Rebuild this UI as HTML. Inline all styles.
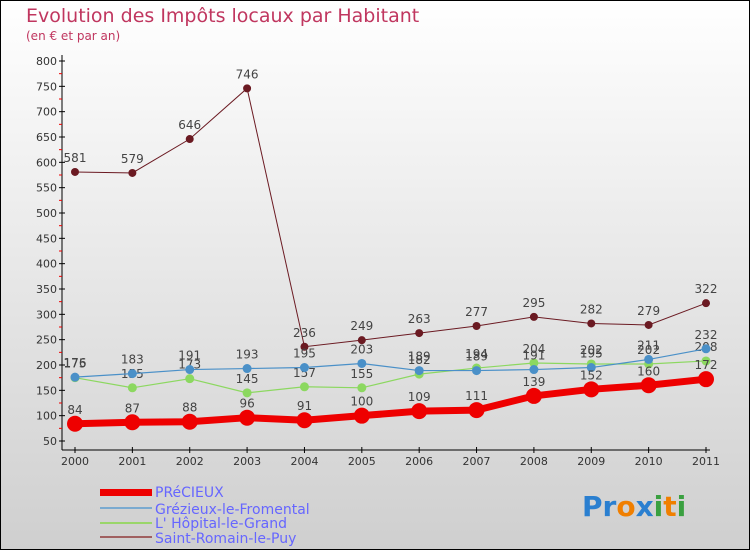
<!DOCTYPE html>
<html><head><meta charset="utf-8"><style>
body{margin:0;}
svg{display:block;font-family:"DejaVu Sans","Liberation Sans",sans-serif;}
</style></head><body>
<svg width="750" height="550">
<defs><linearGradient id="bg" x1="0" y1="0" x2="0" y2="1"><stop offset="0" stop-color="#ffffff"/><stop offset="1" stop-color="#cfcfcf"/></linearGradient></defs>
<rect x="0.5" y="0.5" width="749" height="549" fill="url(#bg)" stroke="#000"/>
<text x="26" y="22" font-size="19" fill="#c0365f">Evolution des Impôts locaux par Habitant</text>
<text x="26" y="40" font-size="12" fill="#c0365f">(en € et par an)</text>
<g id="axes"></g><g id="series"></g>
<g font-size="14" fill="#6666ff">
<rect x="100" y="489" width="52" height="7" fill="#e00"/>
<text x="155" y="497">PRéCIEUX</text>
<rect x="100" y="507" width="52" height="2" fill="#7aaad0"/>
<text x="155" y="514">Grézieux-le-Fromental</text>
<rect x="100" y="522" width="52" height="2" fill="#9ad66a"/>
<text x="155" y="528">L' Hôpital-le-Grand</text>
<rect x="100" y="536" width="52" height="2" fill="#a06060"/>
<text x="155" y="543">Saint-Romain-le-Puy</text>
</g>
<text x="582" y="516" font-size="28" font-weight="bold"><tspan fill="#2a7fd0">Pr</tspan><tspan fill="#f07f00">o</tspan><tspan fill="#2a7fd0">x</tspan><tspan fill="#3aa040">i</tspan><tspan fill="#f07f00">t</tspan><tspan fill="#3aa040">i</tspan></text>
</svg>
<script>
const years=["2000","2001","2002","2003","2004","2005","2006","2007","2008","2009","2010","2011"];
const precieux=[84,87,88,96,91,100,109,111,139,152,160,172];
const grezieux=[176,183,191,193,195,203,189,189,191,195,211,232];
const hopital=[175,155,173,145,157,155,182,194,204,202,202,208];
const saintRomain=[581,579,646,746,236,249,263,277,295,282,279,322];
const yTicks=[50,100,150,200,250,300,350,400,450,500,550,600,650,700,750,800];
const NS="http://www.w3.org/2000/svg";
const X=i=>75+i*(706-75)/11;
const Y=v=>441-(v-50)*(380/750);
function mk(tag,at,parent,text){const e=document.createElementNS(NS,tag);for(const k in at)e.setAttribute(k,at[k]);if(text!=null)e.textContent=text;parent.appendChild(e);return e;}
const ax=document.getElementById('axes');
let l=mk('line',{x1:62,y1:55,x2:62,y2:450,stroke:'#000'},ax);


l=mk('line',{x1:62,y1:450,x2:710,y2:450,stroke:'#000'},ax);


yTicks.forEach((t,i)=>{mk('line',{x1:59,y1:Y(t),x2:65,y2:Y(t),stroke:'#000'},ax);
 if(i<yTicks.length-1)mk('line',{x1:59,y1:Y(t+25),x2:62,y2:Y(t+25),stroke:'#e00'},ax);
 const tx=mk('text',{x:57,y:Y(t)+4,'font-size':11,'text-anchor':'end',fill:'#333'},ax,t);
 
 });
years.forEach((y,i)=>{mk('line',{x1:X(i),y1:447,x2:X(i),y2:453,stroke:'#000'},ax);
 const tx=mk('text',{x:X(i),y:465,'font-size':11,'text-anchor':'middle',fill:'#333'},ax,y);
 
 });
const sg=document.getElementById('series');
function series(data,color,w,r,name){
 const g=mk('g',{},sg);
 
 
 mk('polyline',{points:data.map((v,i)=>X(i)+','+Y(v)).join(' '),fill:'none',stroke:color,'stroke-width':w},g);
 data.forEach((v,i)=>{const c=mk('circle',{cx:X(i),cy:Y(v),r:r,fill:color},g);
  
  
  mk('text',{x:X(i),y:Y(v)-10,'font-size':12,'text-anchor':'middle',fill:'#444'},g,v);});
}
series(saintRomain,'#6b1a22',1,4,'series-saint-romain');
series(hopital,'#8cd860',1.2,4.5,'series-hopital');
series(grezieux,'#4a90c8',1.2,4.5,'series-grezieux');
series(precieux,'#ee0000',7,8,'series-precieux');
</script>
</body></html>
